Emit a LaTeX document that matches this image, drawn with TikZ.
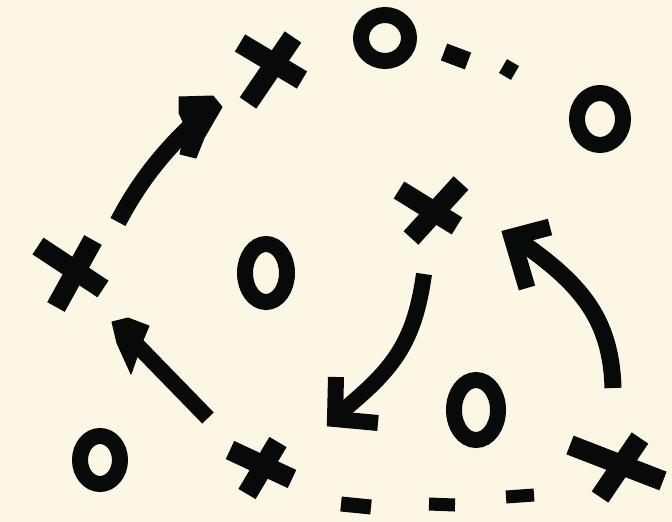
\documentclass[tikz,border=0pt]{standalone}
\begin{document}
\begin{tikzpicture}[x=1pt,y=-1pt,
  ink/.style={draw=inkc,line width=20pt,line cap=butt},
  ring/.style={draw=inkc,line width=16pt},
  shaft/.style={draw=inkc,line width=17pt,line cap=butt},
  prong/.style={draw=inkc,line width=17pt,line cap=butt,line join=miter},
  dashbar/.style={draw=inkc,line width=15pt,line cap=butt},
  headfill/.style={fill=inkc,draw=inkc,line width=1pt,line join=round}]
\definecolor{inkc}{HTML}{070A08}
\definecolor{paper}{HTML}{FCF6E4}
\fill[paper] (0,0) rectangle (672,522);
\useasboundingbox (0,0) rectangle (672,522);
% X marks
\draw[ink] (240,43) -- (302,80);
\draw[ink] (293,37) -- (248,103);
\draw[ink] (38,246) -- (103,289);
\draw[ink] (93,240) -- (56,307);
\draw[ink] (399,190) -- (457,226);
\draw[ink] (461,183) -- (411,238);
\draw[ink] (570,445) -- (663,481);
\draw[ink] (640,438) -- (600,497);
\draw[ink] (230,450) -- (292,479);
\draw[ink] (278,442) -- (247,494);
% O marks
\draw[ring] (385,38) ellipse [x radius=24, y radius=23];
\draw[ring] (600,119) ellipse [x radius=23, y radius=26];
\draw[ring] (266,273) ellipse [x radius=21, y radius=29];
\draw[ring] (476,410) ellipse [x radius=22, y radius=30];
\draw[ring] (100,460) ellipse [x radius=20, y radius=24];
% dashes top
\draw[dashbar,line width=18pt] (444,52) -- (468,61);
\draw[dashbar,line width=16pt] (503,66) -- (515,73);
% dashes bottom
\draw[dashbar] (341,504) -- (371,507);
\draw[dashbar,line width=13pt] (429,504) -- (455,505);
\draw[dashbar,line width=13pt] (506,497) -- (534,495);
% arrow up-right (top left)
\draw[shaft] (118,222) .. controls (140,180) and (165,150) .. (195,122);
\fill[headfill] (179,97) -- (213,96) -- (222,107) -- (204,138) -- (196,158) -- (180,154) -- (186,128) -- (179,113) -- cycle;
% arrow up-left (bottom left)
\draw[shaft,line width=16pt] (208,418) -- (135,343);
\fill[headfill] (112,322) -- (128,318) -- (149,326) -- (143,340) -- (131,374) -- (117,343) -- cycle;
% arrow down-left (centre)
\draw[shaft,line width=16pt] (424,274) .. controls (414,345) and (392,370) .. (340,413);
\draw[prong,line width=16pt] (336,377) -- (335,419) -- (378,423);
% arrow up-left (right)
\draw[shaft] (613,388) .. controls (611,318) and (580,283) .. (518,240);
\draw[prong] (550,227) -- (512,237) -- (527,288);
\end{tikzpicture}
\end{document}
